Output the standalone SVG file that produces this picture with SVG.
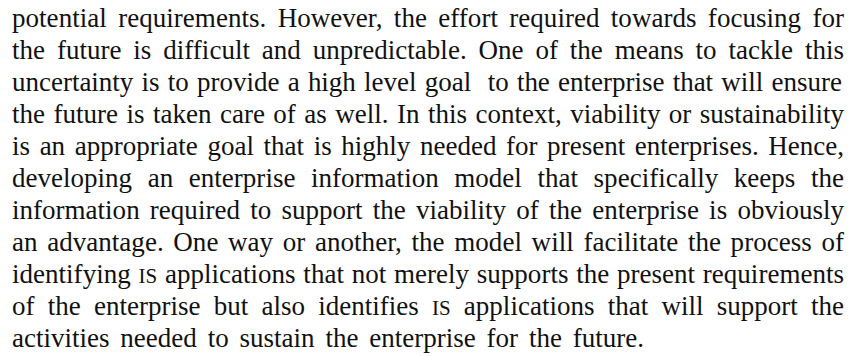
<svg xmlns="http://www.w3.org/2000/svg" width="849" height="356" viewBox="0 0 849 356">
  <style>
    .body { font-family: "Liberation Serif", "Times New Roman", serif; font-size: 27px; fill: #111; font-variant-ligatures: none; }
    .sc { font-size: 21px; }
  </style>
  <rect x="0" y="0" width="849" height="356" fill="#ffffff"/>
  <!-- justified paragraph: each line stretched to the column width -->
  <g id="paragraph">
    <text class="body" x="12" y="26.7" word-spacing="4.5" textLength="832" lengthAdjust="spacing">potential requirements. However, the effort required towards focusing for</text>
    <text class="body" x="12" y="58.7" word-spacing="5.07" textLength="832" lengthAdjust="spacing">the future is difficult and unpredictable. One of the means to tackle this</text>
    <text class="body" x="12" y="90.7" word-spacing="1.5" textLength="830" lengthAdjust="spacing" xml:space="preserve">uncertainty is to provide a high level goal  to the enterprise that will ensure</text>
    <text class="body" x="12" y="122.7" word-spacing="1.68" textLength="832" lengthAdjust="spacing">the future is taken care of as well. In this context, viability or sustainability</text>
    <text class="body" x="12" y="154.7" word-spacing="2.81" textLength="832" lengthAdjust="spacing">is an appropriate goal that is highly needed for present enterprises. Hence,</text>
    <text class="body" x="12" y="186.7" word-spacing="8.8" textLength="832" lengthAdjust="spacing">developing an enterprise information model that specifically keeps the</text>
    <text class="body" x="12" y="218.7" word-spacing="3.46" textLength="832" lengthAdjust="spacing">information required to support the viability of the enterprise is obviously</text>
    <text class="body" x="12" y="250.7" word-spacing="2.89" textLength="832" lengthAdjust="spacing">an advantage. One way or another, the model will facilitate the process of</text>
    <text class="body" x="12" y="282.7" word-spacing="0.96" textLength="832" lengthAdjust="spacing">identifying <tspan class="sc">IS</tspan> applications that not merely supports the present requirements</text>
    <text class="body" x="12" y="314.7" word-spacing="6.4" textLength="832" lengthAdjust="spacing">of the enterprise but also identifies <tspan class="sc">IS</tspan> applications that will support the</text>
    <text class="body" x="12" y="346.7" word-spacing="4.1" textLength="632" lengthAdjust="spacing">activities needed to sustain the enterprise for the future.</text>
  </g>
</svg>
